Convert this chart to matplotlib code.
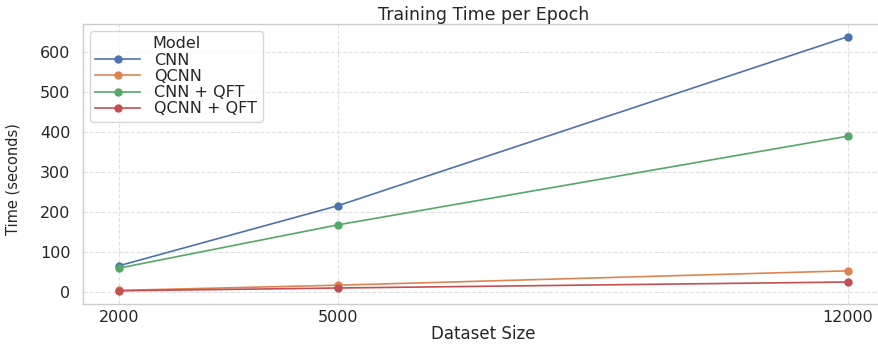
import matplotlib
matplotlib.use("Agg")
import matplotlib.pyplot as plt

## Donnees
sizes = [2000, 5000, 12000]
cnn = [66, 216, 639]
qcnn = [4, 17, 53]
cnn_qft = [60, 168, 390]
qcnn_qft = [3, 10, 25]
models = ["CNN", "QCNN", "CNN + QFT", "QCNN + QFT"]
colors = ["#4C72B0", "#DD8452", "#55A868", "#C44E52"]

txt = '#262626'
fig = plt.figure(figsize=(8.79, 3.44), dpi=100)
ax = fig.add_axes([83/879, 40.5/344, 801/879, 279.5/344])

for serie, nom, c in zip([cnn, qcnn, cnn_qft, qcnn_qft], models, colors):
    ax.plot(sizes, serie, marker='o', color=c, label=nom, lw=1.2, ms=5)

ax.set_xticks(sizes)
ax.set_title("Training Time per Epoch", fontsize=12.5, pad=3, color=txt)
ax.set_xlabel("Dataset Size", fontsize=12, labelpad=0, color=txt)
ax.set_ylabel("Time (seconds)", fontsize=10.5, color=txt)
ax.yaxis.set_label_coords(-0.078, 0.445)
ax.tick_params(axis='y', labelsize=11.5, length=0, pad=9, labelcolor=txt)
ax.tick_params(axis='x', labelsize=11.5, length=0, pad=5, labelcolor=txt)
ax.grid(True, ls='--', color='#e0e0e0', lw=0.8)
for s in ax.spines.values():
    s.set_color('#cccccc')
    s.set_linewidth(1.0)

leg = ax.legend(title="Model", loc='upper left', fontsize=11.5, title_fontsize=11.5,
                frameon=True, borderaxespad=0.45, handlelength=2.8, labelspacing=0.08,
                borderpad=0.32, handletextpad=0.9)
leg.get_frame().set_edgecolor('#cccccc')
for t in leg.get_texts():
    t.set_color(txt)
leg.get_title().set_color(txt)

plt.savefig("out.png", dpi=100)
